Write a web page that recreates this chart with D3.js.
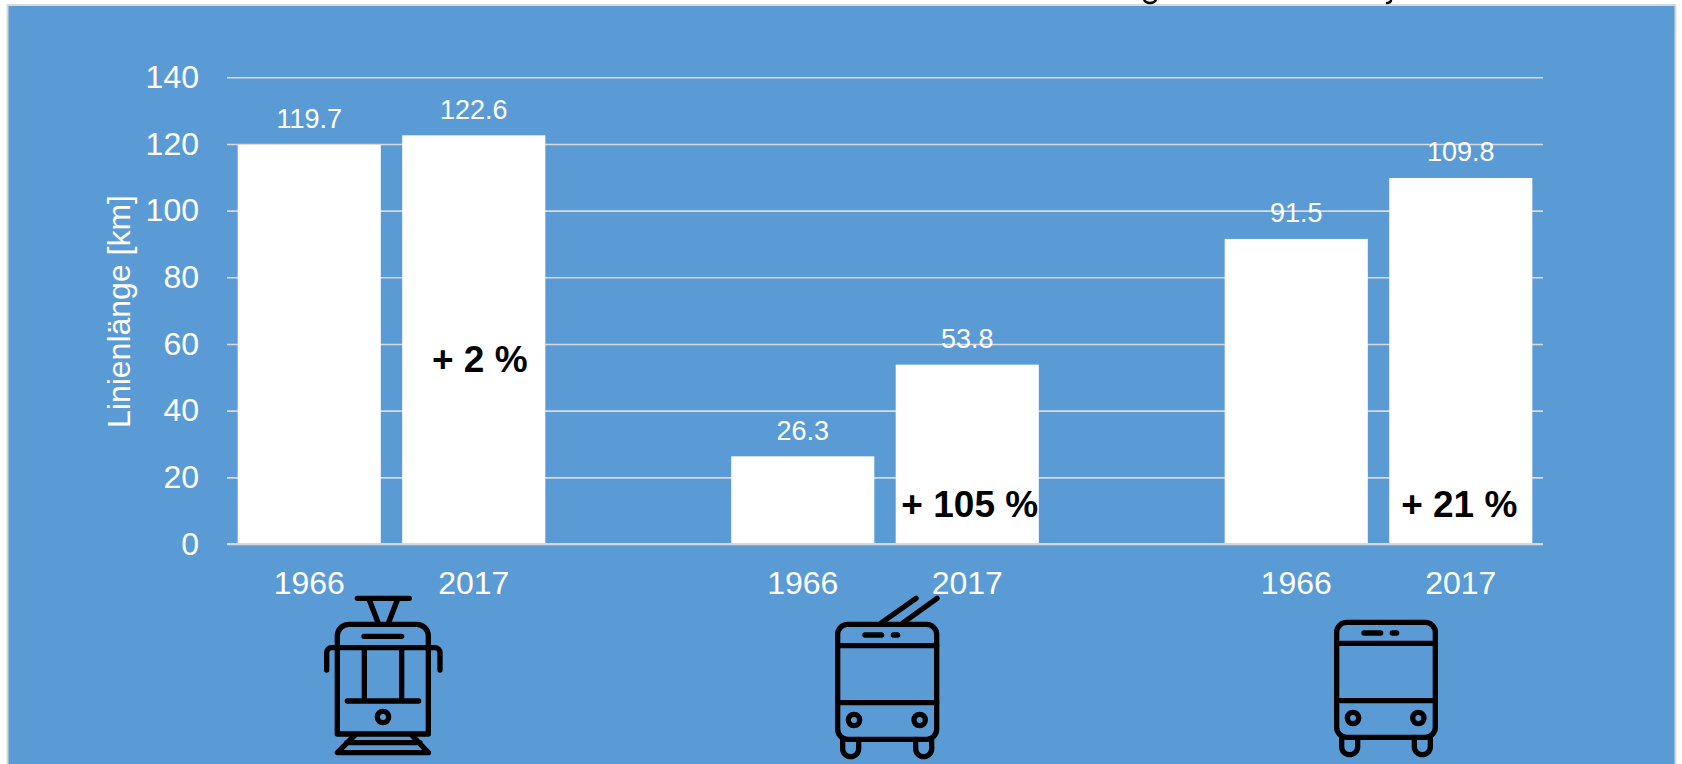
<!DOCTYPE html>
<html>
<head>
<meta charset="utf-8">
<script src="https://cdn.jsdelivr.net/npm/d3@7"></script>
<style>
  html, body { margin: 0; padding: 0; background: #fff; overflow: hidden; }
  text { font-family: "Liberation Sans", Arial, sans-serif; }
</style>
</head>
<body>
<svg id="chart" width="1682" height="764"></svg>
<script>
  // blanks keep the gaps between the three groups
  const slots = ["a", "b", "gap1", "c", "d", "gap2", "e", "f"];
  const barSlots = ["a", "b", "c", "d", "e", "f"];
  const years = ["1966", "2017", "1966", "2017", "1966", "2017"];
  const lengths = [119.7, 122.6, 26.3, 53.8, 91.5, 109.8];
  const yTicks = [0, 20, 40, 60, 80, 100, 120, 140];
  const changeSlots = ["b", "d", "f"];
  const changeLabels = ["+ 2 %", "+ 105 %", "+ 21 %"];
  const changeLevels = [51.5, 8.2, 8.2];

  const svg = d3.select("#chart");
  const blue = "#5b9bd5", grid = "#d9d9d9";

  // frame
  svg.append("rect")
    .attr("x", 7.5).attr("y", 5)
    .attr("width", 1668).attr("height", 765)
    .attr("fill", blue)
    .attr("stroke", grid)
    .attr("stroke-width", 2);

  // bits of the cut off title line
  svg.append("path").attr("d", "M1144,0 C1146,4 1154,4 1156,0")
    .attr("fill", "none").attr("stroke", "#000").attr("stroke-width", 2.5);
  svg.append("path").attr("d", "M1391,0 C1391,2 1389,3 1386,3")
    .attr("fill", "none").attr("stroke", "#000").attr("stroke-width", 2.5);

  const x = d3.scaleBand().domain(slots).range([227, 1543]).paddingInner(0.13).paddingOuter(0.065);
  const y = d3.scaleLinear().domain([0, 140]).range([544, 77.3]);

  // gridlines
  const gridAxis = svg.append("g")
    .attr("transform", "translate(227,0)")
    .call(d3.axisLeft(y).tickValues(yTicks).tickSize(-1316).tickFormat(""));
  gridAxis.select(".domain").remove();
  gridAxis.selectAll("line").attr("stroke", grid).attr("stroke-width", 1.6);

  // bars
  svg.append("g").selectAll("rect")
    .data(lengths)
    .enter()
    .append("rect")
      .attr("x", (d, i) => x(barSlots[i]))
      .attr("y", d => y(d))
      .attr("width", x.bandwidth())
      .attr("height", d => y(0) - y(d))
      .attr("fill", "#fff");

  // baseline goes over the bars
  svg.append("line")
    .attr("x1", 227).attr("x2", 1543)
    .attr("y1", y(0)).attr("y2", y(0))
    .attr("stroke", grid).attr("stroke-width", 2);

  // y tick labels
  const yAxis = svg.append("g")
    .attr("transform", "translate(199,0)")
    .call(d3.axisLeft(y).tickValues(yTicks).tickSize(0).tickPadding(0));
  yAxis.select(".domain").remove();
  yAxis.selectAll("text")
    .attr("fill", "#fff")
    .style("font-size", "32px")
    .style("font-family", '"Liberation Sans", Arial, sans-serif');

  // year labels
  svg.append("g").selectAll("text")
    .data(years)
    .enter()
    .append("text")
      .attr("x", (d, i) => x(barSlots[i]) + x.bandwidth() / 2)
      .attr("y", 594)
      .attr("text-anchor", "middle")
      .attr("fill", "#fff")
      .style("font-size", "32px")
      .text(d => d);

  // value labels
  svg.append("g").selectAll("text")
    .data(lengths)
    .enter()
    .append("text")
      .attr("x", (d, i) => x(barSlots[i]) + x.bandwidth() / 2)
      .attr("y", d => y(d) - 16.5)
      .attr("text-anchor", "middle")
      .attr("fill", "#fff")
      .style("font-size", "27px")
      .text(d => d.toFixed(1));

  // change labels
  const changeShift = [6, 2.5, -1.5];
  svg.append("g").selectAll("text")
    .data(changeLabels)
    .enter()
    .append("text")
      .attr("x", (d, i) => x(changeSlots[i]) + x.bandwidth() / 2 + changeShift[i])
      .attr("y", (d, i) => y(changeLevels[i]))
      .attr("text-anchor", "middle")
      .attr("fill", "#000")
      .style("font-size", "37px")
      .style("font-weight", "bold")
      .text(d => d);

  // axis title
  svg.append("text")
    .attr("transform", "translate(130,311.5) rotate(-90)")
    .attr("text-anchor", "middle")
    .attr("fill", "#fff")
    .style("font-size", "32px")
    .text("Linienlänge [km]");

  // icons
  function icon(ox, oy) {
    return svg.append("g")
      .attr("transform", `translate(${ox},${oy}) scale(${1 / 3})`)
      .attr("fill", "none")
      .attr("stroke", "#000")
      .attr("stroke-width", 16)
      .attr("stroke-linecap", "round")
      .attr("stroke-linejoin", "round");
  }

  function busBody(g, top, bottom, left, right, line1, line2, wheelY) {
    g.append("path").attr("d", `M${left + 15},${bottom} v28 a24,24 0 0 0 48,0 v-28 M${right - 63},${bottom} v28 a24,24 0 0 0 48,0 v-28`);
    g.append("rect")
      .attr("x", left).attr("y", top)
      .attr("width", right - left).attr("height", bottom - top)
      .attr("rx", 30);
    g.append("path").attr("d", `M${left},${line1} H${right} M${left},${line2} H${right}`);
    g.append("path").attr("d", `M${left + 82},${top + 32} h50 M${left + 167},${top + 32} h13`);
    g.append("circle").attr("cx", left + 49).attr("cy", wheelY).attr("r", 17);
    g.append("circle").attr("cx", right - 51).attr("cy", wheelY).attr("r", 17);
  }

  const tram = icon(300, 560);
  tram.append("path").attr("d", "M172,115 H328 M208,120 L235,190 M292,120 L265,190");
  tram.append("path").attr("d", "M112,522 V228 a35,35 0 0 1 35,-35 H350 a35,35 0 0 1 35,35 V522 Z");
  tram.append("path").attr("d", "M80,330 V278 a15,15 0 0 1 15,-15 H405 a15,15 0 0 1 15,15 V330");
  tram.append("path").attr("d", "M192,229 H305 M193,263 V423 M305,263 V423 M142,423 H356");
  tram.append("circle").attr("cx", 249).attr("cy", 471).attr("r", 17);
  tram.append("path").attr("d", "M165,525 L112,578 H385 L335,525 M140,548 H360");

  const trolley = icon(810, 580);
  trolley.append("path").attr("d", "M215,128 L318,55 M280,128 L381,55");
  busBody(trolley, 133, 478, 83, 380, 197, 368, 420);

  const bus = icon(1310, 600);
  busBody(bus, 67, 412, 80, 376, 130, 302, 354);
</script>
</body>
</html>
